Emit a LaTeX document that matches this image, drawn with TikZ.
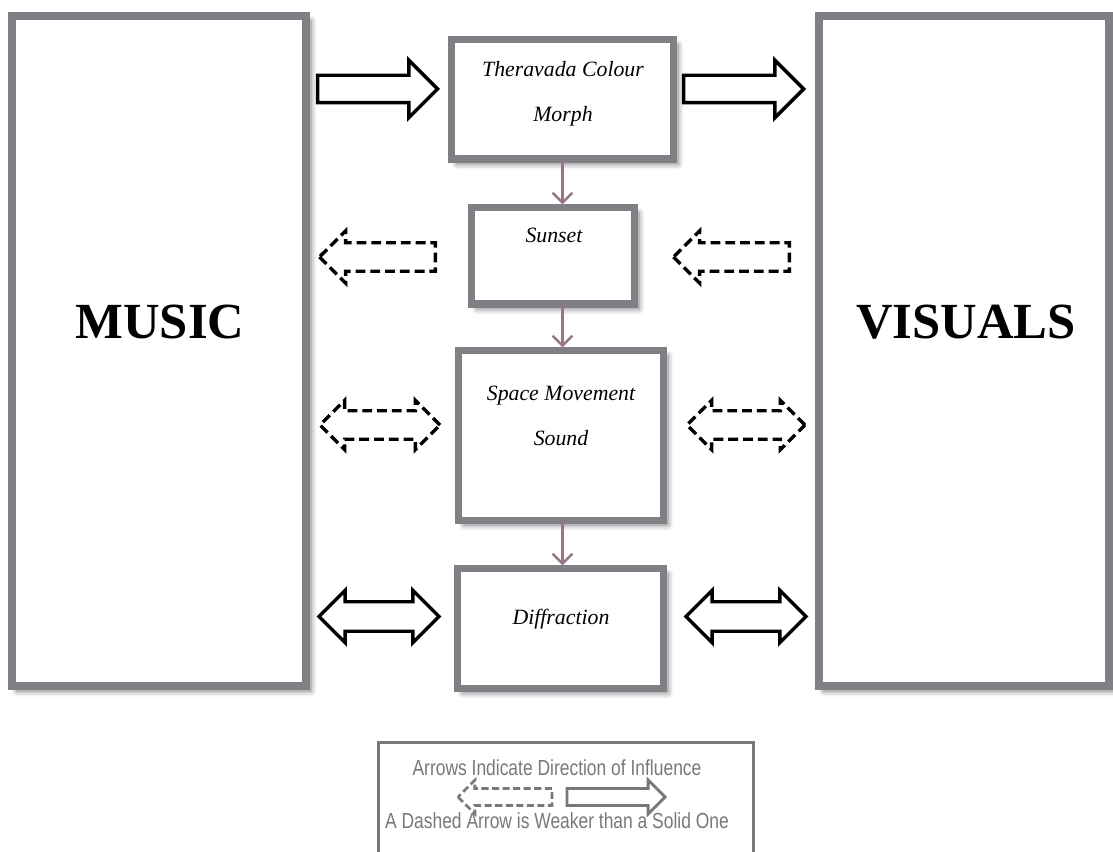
\documentclass[tikz,border=0pt]{standalone}
\usepackage{fontspec}
\setmainfont{Liberation Serif}
\newfontfamily\keyfont[FakeStretch=0.8]{Liberation Sans}
\usetikzlibrary{shapes.arrows,arrows.meta,shadows.blur}
\definecolor{boxgray}{RGB}{128,127,134}
\definecolor{flowmauve}{RGB}{150,118,132}
\definecolor{keygray}{RGB}{120,120,124}

\begin{document}
\begin{tikzpicture}[x=0.025cm,y=-0.025cm,
    panel/.style ={rectangle, draw=boxgray, line width=5.7pt, fill=white, inner sep=0pt,
      blur shadow={shadow xshift=3.5pt, shadow yshift=-3.5pt, shadow blur radius=4pt, shadow opacity=55}},
    stage/.style ={panel, line width=5pt},
    stagetext/.style ={font=\fontsize{15.5}{32}\selectfont\itshape, align=center, inner sep=0pt},
    bigtext/.style ={font=\fontsize{36}{40}\selectfont\bfseries, inner sep=0pt},
    fwd/.style ={single arrow, draw, line width=2.4pt, fill=white, inner xsep=0pt, minimum height=3cm, anchor=tip},
    both/.style ={double arrow, draw, line width=2.4pt, fill=white, inner xsep=0pt, minimum height=3cm},
    weak/.style ={dash pattern=on 7pt off 3.5pt},
    flow/.style ={draw=flowmauve, line width=1.8pt, -{Straight Barb[length=7pt,width=14pt]}},
    keyarrow/.style ={single arrow, draw=keygray, line width=2pt, fill=white, inner xsep=0pt, inner ysep=0.175cm,
      minimum height=2.45cm, minimum width=0.775cm, single arrow head extend=0.2125cm, anchor=tip},
    keytext/.style ={font=\keyfont\fontsize{15.5}{18}\selectfont, text=keygray, inner sep=0pt, anchor=base}]
   \useasboundingbox (0,0) rectangle (1113,852);
   \node[panel, minimum width=7.35cm, minimum height=16.75cm] (music) at (159,351) {};
   \node[panel, minimum width=7.25cm, minimum height=16.75cm] (visuals) at (964,351) {};
   \node[bigtext] (musiclbl) at (160,322) {MUSIC};
   \node[bigtext] (visualslbl) at (966,322) {VISUALS};
   \node[stage, minimum width=5.525cm, minimum height=2.975cm] (thera) at (562.5,99.5) {};
   \node[stage, minimum width=4.05cm, minimum height=2.4cm] (sunset) at (553,256) {};
   \node[stage, minimum width=5.1cm, minimum height=4.225cm] (space) at (561,435.5) {};
   \node[stage, minimum width=5.125cm, minimum height=2.975cm] (diffr) at (560.5,628.5) {};
   \node[stagetext] (theralbl) at (563,93.5) {Theravada Colour\\Morph};
   \node[stagetext, anchor=base] (sunsetlbl) at (554,243) {Sunset};
   \node[stagetext] (spacelbl) at (561,416) {Space Movement\\Sound};
   \node[stagetext, anchor=base] (diffrlbl) at (561,624) {Diffraction};
   \draw[flow] (thera.south) -- (thera.south |- sunset.north);
   \draw[flow] (sunset.south -| thera.south) -- (thera.south |- space.north);
   \draw[flow] (space.south -| thera.south) -- (thera.south |- diffr.north);
   \node[fwd, inner ysep=0.3cm, single arrow head extend=0.375cm] (mt) at (440,89) {};
   \node[fwd, inner ysep=0.3cm, single arrow head extend=0.375cm] (tv) at (806,89) {};
   \node[fwd, weak, shape border rotate=180, inner ysep=0.3125cm, single arrow head extend=0.3cm, minimum height=2.9cm] (sm) at (317,257) {};
   \node[fwd, weak, shape border rotate=180, inner ysep=0.3125cm, single arrow head extend=0.3cm, minimum height=2.9cm] (vs) at (671,257) {};
   \node[both, weak, inner ysep=0.3125cm, double arrow head extend=0.2625cm] (ms) at (380,425) {};
   \node[both, weak, inner ysep=0.3125cm, double arrow head extend=0.2625cm, minimum height=2.95cm] (sv) at (746,425) {};
   \node[both, inner ysep=0.325cm, double arrow head extend=0.2875cm] (md) at (379,616.5) {};
   \node[both, inner ysep=0.325cm, double arrow head extend=0.2875cm] (dv) at (746,616.5) {};
   \node[rectangle, draw=keygray, line width=2pt, minimum width=9.375cm, minimum height=3.44cm] (legend) at (566,811) {};
   \node[keytext] (keytop) at (557,775) {Arrows Indicate Direction of Influence};
   \node[keyarrow, dash pattern=on 5pt off 2.5pt, shape border rotate=180, minimum height=2.35cm] (keyweak) at (456,797) {};
   \node[keyarrow] (keystrong) at (667,797) {};
   \node[keytext] (keybottom) at (557,828) {A Dashed Arrow is Weaker than a Solid One};
\end{tikzpicture}
\end{document}
